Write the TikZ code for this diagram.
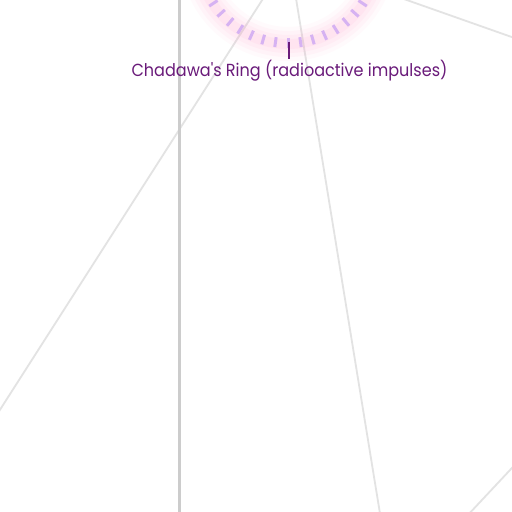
\documentclass[tikz,border=0pt]{standalone}
\usepackage{fontspec}
\setmainfont{Poppins}
\usetikzlibrary{calc}
\definecolor{gridline}{HTML}{E3E3E3}
\definecolor{axisline}{HTML}{CCCCCC}
\definecolor{ringdash}{HTML}{D6B2F2}
\definecolor{halo}{HTML}{FF9EC8}
\definecolor{labelpurple}{HTML}{6A1B7A}
\tikzset{
  thinline/.style={draw=gridline, line width=1.8pt},
  axisstroke/.style={draw=axisline, line width=3pt},
  ringtick/.style={draw=ringdash, line width=3pt},
  markertick/.style={draw=labelpurple, line width=2.6pt},
  ringlabel/.style={text=labelpurple, font=\fontsize{17.5}{20}\selectfont, inner sep=0pt, anchor=base, xscale=0.917}
}
\begin{document}
\begin{tikzpicture}[x=1pt,y=1pt]
\useasboundingbox (0,0) rectangle (512,512);
\clip (0,0) rectangle (512,512);
\fill[white] (0,0) rectangle (512,512);
% background lines
\draw[thinline] (-20,71) -- (275,532);
\draw[thinline] (293,532) -- (383,-20);
\draw[thinline] (350,532) -- (540,465);
\draw[thinline] (540,74) -- (452,-20);
\draw[axisstroke] (179,-5) -- (179,517);
% ring halo
\coordinate (ringc) at (288,559);
\foreach \w/\o in {34/0.05,26/0.07,18/0.08,10/0.09} {
  \draw[halo, opacity=\o, line width=\w pt] (ringc) circle[radius=91];
}
% ring ticks
\foreach \k in {-22,...,22} {
  \pgfmathsetmacro{\a}{270+8*\k}
  \draw[ringtick] ($(ringc)+(\a:85)$) -- ($(ringc)+(\a:95)$);
}
% marker and label
\coordinate (mtop) at (289,470);
\coordinate (mbot) at (289,453);
\draw[markertick] (mtop) -- (mbot);
\node[ringlabel] (lbl) at (289.5,435.5) {Chadawa\textquotesingle s Ring (radioactive impulses)};
\end{tikzpicture}
\end{document}
